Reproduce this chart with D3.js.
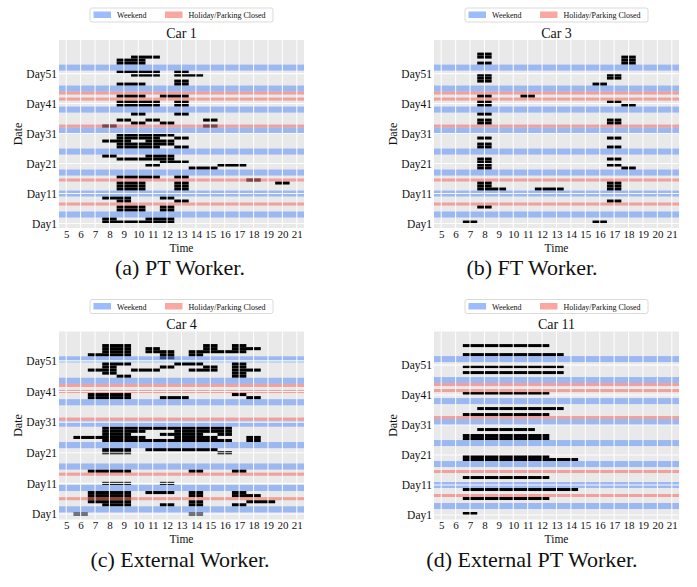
<!DOCTYPE html>
<html>
<head>
<meta charset="utf-8">
<script src="https://cdn.jsdelivr.net/npm/d3@7"></script>
<style>
  body { margin: 0; background: #fff; }
  svg { display: block; }
  text { font-family: "Liberation Serif", "Times New Roman", serif; fill: #111; }
</style>
</head>
<body>
<svg id="fig" width="697" height="587"></svg>
<script>
// ---- data ----
const hourTicks = d3.range(5, 22);
const dayLabels = ['Day1', 'Day11', 'Day21', 'Day31', 'Day41', 'Day51'];
const legendLabels = ['Weekend', 'Holiday/Parking Closed'];

// calendar rows (row 0 = first day), shared by all cars
const weekendRows = [2, 3, 9, 10, 16, 17, 23, 24, 30, 31, 37, 38, 44, 45, 51, 52];
const holidayRows = [6, 14, 32, 41, 43];

// parked hours: [row, first hour, last hour]
const car1 = [
  [0, 8, 12], [1, 8, 8], [1, 11, 12],
  [4, 9, 10], [4, 12, 12], [5, 9, 10], [5, 12, 12],
  [7, 9, 9], [7, 13, 13], [8, 8, 9], [8, 12, 12],
  [11, 9, 10], [11, 13, 13], [12, 9, 10], [12, 13, 13], [13, 9, 10], [13, 13, 13], [13, 20, 20],
  [14, 18, 18], [15, 9, 11], [15, 13, 13],
  [18, 14, 15], [19, 11, 11], [19, 16, 17], [20, 12, 13], [21, 9, 12], [22, 8, 8], [22, 11, 12],
  [25, 9, 11], [25, 13, 13], [26, 9, 12], [27, 8, 9], [27, 11, 12], [28, 9, 11], [28, 13, 13], [29, 9, 12],
  [32, 8, 8], [32, 15, 15], [33, 10, 10], [33, 12, 12], [34, 9, 9], [34, 11, 11], [34, 15, 15],
  [36, 10, 10], [36, 13, 13],
  [39, 9, 11], [39, 13, 13], [40, 9, 11], [40, 13, 13], [42, 9, 10], [42, 12, 13],
  [46, 9, 10], [46, 13, 13], [47, 13, 13], [49, 10, 11], [49, 13, 14], [50, 9, 11], [50, 13, 13],
  [53, 9, 10], [54, 9, 10], [55, 10, 11]
];
const car3 = [
  [0, 7, 7], [0, 16, 16], [5, 8, 8], [7, 17, 17],
  [11, 8, 9], [11, 12, 13], [11, 17, 17], [12, 8, 8], [12, 17, 17], [13, 8, 8], [13, 17, 17],
  [18, 8, 8], [18, 18, 18], [19, 8, 8], [19, 17, 17], [20, 8, 8], [21, 8, 8], [21, 17, 17],
  [25, 8, 8], [25, 17, 17], [26, 8, 8], [28, 8, 8], [28, 17, 17],
  [33, 8, 8], [33, 17, 17], [34, 8, 8], [34, 17, 17], [36, 8, 8],
  [39, 8, 8], [39, 18, 18], [40, 8, 8], [40, 17, 17], [42, 8, 8], [42, 11, 11],
  [46, 16, 16], [47, 8, 8], [48, 8, 8], [48, 17, 17], [49, 8, 8], [49, 17, 17],
  [53, 8, 8], [53, 18, 18], [54, 18, 18], [55, 8, 8], [55, 18, 18], [56, 8, 8]
];
const car4 = [
  [1, 6, 6], [1, 14, 14],
  [4, 8, 9], [4, 12, 12], [4, 14, 14], [4, 17, 17],
  [5, 7, 9], [5, 14, 14], [5, 18, 19], [6, 7, 9],
  [7, 7, 9], [7, 14, 14], [7, 17, 18],
  [8, 7, 9], [8, 11, 12], [8, 14, 14], [8, 17, 17],
  [11, 8, 9], [11, 12, 12],
  [15, 7, 9], [15, 14, 14], [15, 17, 17],
  [21, 8, 9], [21, 16, 16], [22, 8, 9], [22, 11, 15],
  [25, 8, 16], [25, 18, 18], [26, 6, 10], [26, 13, 15], [26, 18, 18],
  [27, 8, 9], [27, 12, 14], [27, 16, 16], [28, 8, 10], [28, 13, 16], [29, 8, 16],
  [39, 7, 9], [39, 12, 13], [39, 18, 18], [40, 7, 9], [40, 17, 17],
  [46, 9, 9], [46, 17, 17], [47, 8, 8], [47, 17, 17],
  [48, 7, 8], [48, 10, 11], [48, 14, 15], [48, 17, 18],
  [49, 8, 8], [49, 12, 12], [49, 15, 15], [49, 17, 17],
  [50, 8, 9], [50, 13, 14], [50, 17, 17], [52, 12, 12],
  [53, 7, 9], [53, 12, 12], [53, 14, 14], [54, 8, 9], [54, 11, 12], [54, 14, 17],
  [55, 8, 9], [55, 11, 11], [55, 15, 15], [55, 17, 18], [56, 8, 9], [56, 15, 15], [56, 17, 17]
];
const car11 = [
  [0, 7, 7], [5, 7, 12], [8, 7, 14], [12, 7, 12], [18, 7, 14], [19, 7, 12],
  [25, 7, 12], [26, 7, 12], [28, 8, 11], [33, 7, 12], [35, 8, 13], [40, 7, 12],
  [47, 7, 13], [49, 7, 13], [53, 7, 13], [56, 7, 12]
];

// ---- layout ----
const W = 245, H = 188;
const COLOR_WEEKEND = '#5b8ff9', COLOR_HOLIDAY = '#f66a63';

const panels = [
  { title: 'Car 1', caption: '(a) PT Worker.', cells: car1, left: 59, top: 40, capX: 180, capY: 275, yDomain: [-1.5, 61.2], dayBase: 0 },
  { title: 'Car 3', caption: '(b) FT Worker.', cells: car3, left: 434, top: 40, capX: 532, capY: 275, yDomain: [-1.5, 61.2], dayBase: 0 },
  { title: 'Car 4', caption: '(c) External Worker.', cells: car4, left: 59, top: 331.5, capX: 180, capY: 567, yDomain: [-0.3, 61.1], dayBase: 1.5 },
  { title: 'Car 11', caption: '(d) External PT Worker.', cells: car11, left: 434, top: 331.5, capX: 532, capY: 567, yDomain: [-1.5, 61.2], dayBase: 0 }
];

const svg = d3.select('#fig');

// merge consecutive rows into spans
function spans(rows) {
  let out = [];
  rows.slice().sort((a, b) => a - b).forEach(r => {
    let last = out[out.length - 1];
    if (last && last[1] === r) last[1] = r + 1;
    else out.push([r, r + 1]);
  });
  return out;
}

panels.forEach(drawPanel);

function drawPanel(p) {
  const g = svg.append('g');
  const x = d3.scaleLinear().domain([4.5, 21.5]).range([p.left, p.left + W]);
  const y = d3.scaleLinear().domain(p.yDomain).range([p.top + H, p.top]);
  const dayTicks = dayLabels.map((d, i) => p.dayBase + i * 10);

  g.append('rect')
    .attr('x', p.left).attr('y', p.top).attr('width', W).attr('height', H)
    .attr('fill', '#e9e9e9');

  // parked cells
  g.append('g').selectAll('rect').data(p.cells).join('rect')
    .attr('x', d => x(d[1] - 0.5))
    .attr('y', d => y(d[0] + 1))
    .attr('width', d => x(d[2] + 0.5) - x(d[1] - 0.5))
    .attr('height', d => y(d[0]) - y(d[0] + 1))
    .attr('fill', '#000');

  // weekend / holiday bands, drawn over the cells
  const bands = spans(weekendRows).map(s => ({ s, c: COLOR_WEEKEND, o: 0.55 }))
    .concat(spans(holidayRows).map(s => ({ s, c: COLOR_HOLIDAY, o: 0.58 })));
  g.append('g').selectAll('rect').data(bands).join('rect')
    .attr('x', p.left).attr('width', W)
    .attr('y', d => y(d.s[1]))
    .attr('height', d => y(d.s[0]) - y(d.s[1]))
    .attr('fill', d => d.c)
    .attr('fill-opacity', d => d.o);

  // white grid on top
  const grid = g.append('g').attr('stroke', '#fff').attr('stroke-width', 1.1).attr('stroke-opacity', 0.9);
  grid.selectAll('line.v').data(hourTicks).join('line').attr('class', 'v')
    .attr('x1', d => x(d)).attr('x2', d => x(d))
    .attr('y1', p.top).attr('y2', p.top + H);
  grid.selectAll('line.h').data(dayTicks).join('line').attr('class', 'h')
    .attr('y1', d => y(d)).attr('y2', d => y(d))
    .attr('x1', p.left).attr('x2', p.left + W);

  // axes
  const ax = g.append('g')
    .attr('transform', `translate(0,${p.top + H})`)
    .call(d3.axisBottom(x).tickValues(hourTicks).tickSize(0).tickPadding(2));
  const ay = g.append('g')
    .attr('transform', `translate(${p.left},0)`)
    .call(d3.axisLeft(y).tickValues(dayTicks).tickFormat((d, i) => dayLabels[i]).tickSize(0).tickPadding(2));
  [ax, ay].forEach(a => {
    a.select('.domain').remove();
    a.attr('font-family', null).attr('font-size', null);
    a.selectAll('text').attr('font-size', 11.5).attr('fill', '#111');
  });
  ax.selectAll('text').attr('font-size', 11);

  const cx = p.left + W / 2;
  g.append('text').attr('x', cx).attr('y', p.top + H + 23.5)
    .attr('text-anchor', 'middle').attr('font-size', 11.5).text('Time');
  g.append('text')
    .attr('transform', `translate(${p.left - 37},${p.top + H / 2}) rotate(-90)`)
    .attr('text-anchor', 'middle').attr('font-size', 12).text('Date');
  g.append('text').attr('x', cx).attr('y', p.top - 2.5)
    .attr('text-anchor', 'middle').attr('font-size', 14).text(p.title);
  g.append('text').attr('x', p.capX).attr('y', p.capY)
    .attr('text-anchor', 'middle').attr('font-size', 22).text(p.caption);

  // legend
  const lg = g.append('g').attr('transform', `translate(${cx - 91.5},${p.top - 32})`);
  lg.append('rect').attr('width', 183).attr('height', 14).attr('rx', 2)
    .attr('fill', '#fff').attr('stroke', '#d0d0d0').attr('stroke-width', 0.8);
  const items = [{ t: legendLabels[0], c: COLOR_WEEKEND, dx: 3.5 }, { t: legendLabels[1], c: COLOR_HOLIDAY, dx: 75 }];
  items.forEach(it => {
    lg.append('rect').attr('x', it.dx).attr('y', 3.5).attr('width', 17.5).attr('height', 6.5)
      .attr('fill', it.c).attr('fill-opacity', 0.6);
    lg.append('text').attr('x', it.dx + 23.5).attr('y', 10).attr('font-size', 8).text(it.t);
  });
}
</script>
</body>
</html>
